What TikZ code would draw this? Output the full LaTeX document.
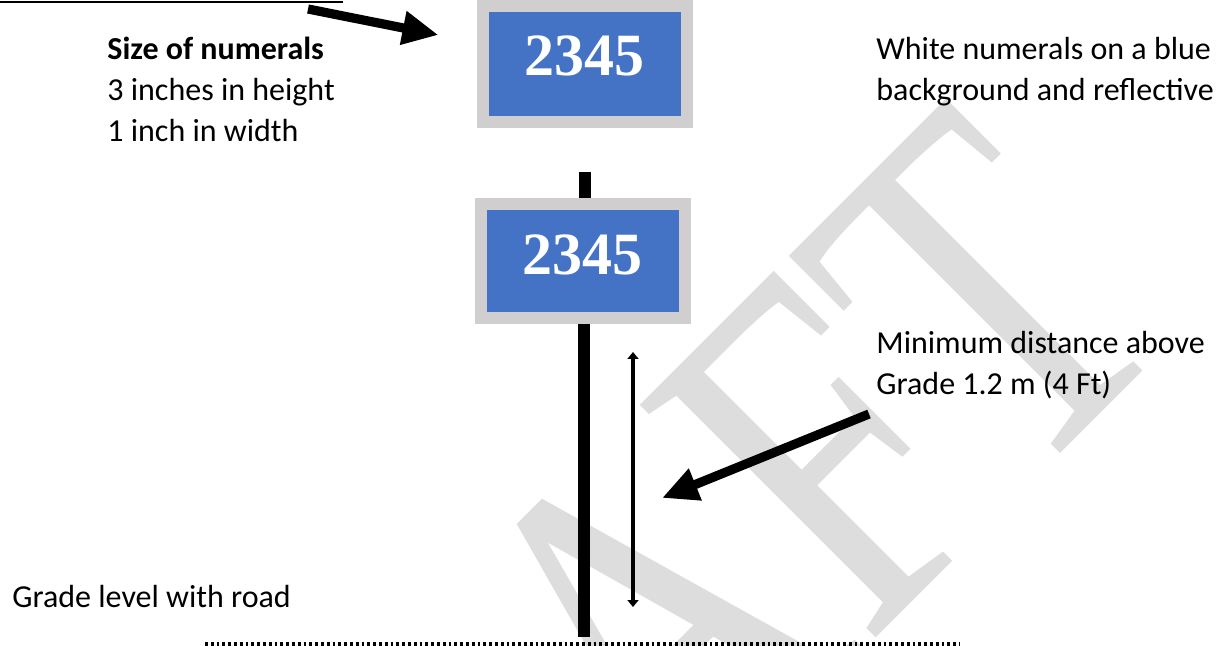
\documentclass[tikz,border=0pt]{standalone}
\usepackage{fontspec}
\setmainfont{Carlito}
\newfontfamily\serifnum{Liberation Serif}
\usetikzlibrary{arrows.meta}
\definecolor{signblue}{RGB}{68,114,196}
\definecolor{signgray}{RGB}{208,206,206}
\definecolor{wmgray}{RGB}{221,221,221}
\begin{document}
\begin{tikzpicture}[x=0.5pt,y=-0.5pt,
  lbl/.style={anchor=base west, inner sep=0pt, font=\fontsize{16}{20}\selectfont},
  boldlbl/.style={lbl, font=\bfseries\fontsize{16}{20}\selectfont},
  sign/.style={draw=signgray, line width=6pt, fill=signblue, inner sep=0pt, minimum width=102pt},
  numeral/.style={text=white, inner sep=0pt, font=\serifnum\bfseries\fontsize{30}{30}\selectfont},
  fatarrow/.style={line width=4.6pt, line cap=butt, -{Triangle[length=18pt,width=16pt]}},
  post/.style={line width=5.75pt, line cap=butt},
  thinarrow/.style={line width=1.6pt, {Triangle[length=3.5pt,width=5.5pt]}-{Triangle[length=3.5pt,width=5.5pt]}},
  dotline/.style={line width=2.2pt, dash pattern=on 1.35pt off 1.55pt},
]
\useasboundingbox (0,0) rectangle (1221,646);
% watermark
\begin{scope}
\clip (0,0) rectangle (1221,646);
\node[rotate=45, anchor=base west, inner sep=0pt, text=wmgray,
      font=\serifnum\fontsize{253}{253}\selectfont] (wm) at (290,1224)
      {\scalebox{0.763}[1]{DRAFT}};
\end{scope}
% top rule
\coordinate (l1) at (0,2);
\coordinate (l2) at (343,2);
\draw[line width=1.3pt] (l1) -- (l2);
% posts
\coordinate (p1) at (585,172);
\coordinate (p3) at (585,205);
\coordinate (p2) at (584,637);
\coordinate (p4) at (584,318);
\draw[post] (p1) -- (p3);
\draw[post] (p4) -- (p2);
% signs
\node[sign, minimum height=57.85pt] (s1) at (584.7,63.85) {};
\node[sign, minimum height=56.85pt] (s2) at (582.8,261.2) {};
\node[numeral] (n1) at (584,56) {2345};
\node[numeral] (n2) at (582.5,255) {2345};
% texts
\node[boldlbl] (t1) at (107,60) {Size of numerals};
\node[lbl] (t2) at (107,101) {3 inches in height};
\node[lbl] (t3) at (107,142) {1 inch in width};
\node[lbl] (w1) at (876,60) {White numerals on a blue};
\node[lbl] (w2) at (876,101) {background and reflective};
\node[lbl] (m1) at (876,354) {Minimum distance above};
\node[lbl] (m2) at (876,395) {Grade 1.2 m (4 Ft)};
\node[lbl] (gl) at (12,607) {Grade level with road};
% arrows
\coordinate (a1s) at (308,9);
\coordinate (a1e) at (438.5,35);
\draw[fatarrow] (a1s) -- (a1e);
\coordinate (a2s) at (869,414);
\coordinate (a2e) at (662,498);
\draw[fatarrow] (a2s) -- (a2e);
\coordinate (d1) at (633,352);
\coordinate (d2) at (633,607);
\draw[thinarrow] (d1) -- (d2);
% ground
\coordinate (g1) at (205,644);
\coordinate (g2) at (960,644);
\draw[dotline] (g1) -- (g2);
\end{tikzpicture}
\end{document}
